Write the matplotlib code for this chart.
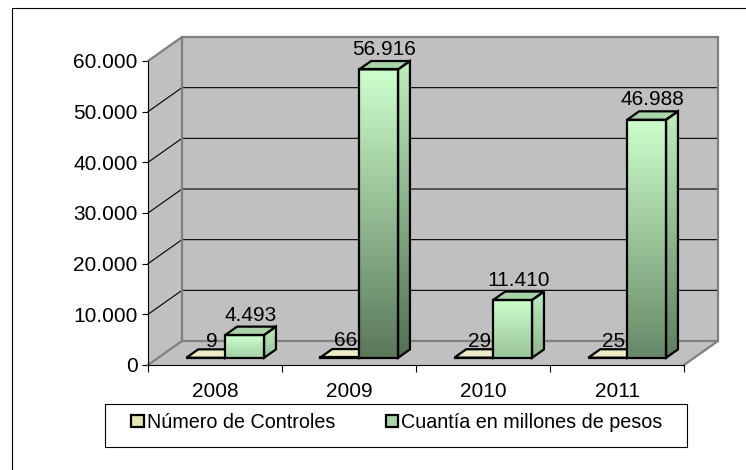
import numpy as np
import matplotlib
matplotlib.use("Agg")
import matplotlib.pyplot as plt
from matplotlib.patches import Polygon, Rectangle, Patch
from matplotlib.colors import to_rgb

plt.rcParams['font.family'] = ['Liberation Sans', 'DejaVu Sans']

# ---- data ----
years = ["2008", "2009", "2010", "2011"]
num_controles = [9, 66, 29, 25]
cuantia = [4493, 56916, 11410, 46988]
series_names = ["Número de Controles", "Cuantía en millones de pesos"]
y_ticks = [0, 10000, 20000, 30000, 40000, 50000, 60000]

FS = 15        # axis and value labels
FS_LEG = 14.2  # legend text

W, H = 746, 470
fig = plt.figure(figsize=(W / 100, H / 100), dpi=100)
fig.patch.set_facecolor("white")

# front plane of the 3-D plot area
ax = fig.add_axes([148 / W, 1 - 365 / H, 536 / W, 304 / H])
ax.set_xlim(0, len(years))
ax.set_ylim(y_ticks[0], y_ticks[-1])
ax.patch.set_alpha(0)

# depth offset of the back wall, in data units
DX = 34 / 134
DY = 24 / 304 * (y_ticks[-1] - y_ticks[0])
Z0, Z1 = 0.30, 0.65          # bar front / back depth
XMAX, YMAX = len(years), y_ticks[-1]


def proj(x, y, z):
    return (x + z * DX, y + z * DY)


WALL = "#C0C0C0"
EDGE = "#808080"


def poly(pts, fc, ec, lw, z):
    p = Polygon(pts, closed=True, facecolor=fc, edgecolor=ec, lw=lw,
                zorder=z, clip_on=False, joinstyle="miter")
    ax.add_patch(p)
    return p


# walls and floor
poly([proj(0, 0, 1), proj(XMAX, 0, 1), proj(XMAX, YMAX, 1), proj(0, YMAX, 1)],
     WALL, "none", 0, 1)
poly([proj(0, 0, 0), proj(0, 0, 1), proj(0, YMAX, 1), proj(0, YMAX, 0)],
     WALL, "none", 0, 1)
poly([proj(0, 0, 0), proj(XMAX, 0, 0), proj(XMAX, 0, 1), proj(0, 0, 1)],
     WALL, "none", 0, 1)

# gridlines on back and side walls
for v in y_ticks[1:-1]:
    xs, ys = zip(proj(0, v, 0), proj(0, v, 1), proj(XMAX, v, 1))
    ax.plot(xs, ys, color="black", lw=0.8, zorder=2, clip_on=False)

# wall edges
edges = [
    [proj(0, YMAX, 0), proj(0, YMAX, 1), proj(XMAX, YMAX, 1), proj(XMAX, 0, 1)],
    [proj(0, 0, 0), proj(0, 0, 1), proj(XMAX, 0, 1), proj(XMAX, 0, 0)],
    [proj(0, 0, 1), proj(0, YMAX, 1)],
]
for e in edges:
    xs, ys = zip(*e)
    ax.plot(xs, ys, color=EDGE, lw=1.6, zorder=2.5, clip_on=False,
            solid_joinstyle="miter")

LIGHT = np.array(to_rgb("#CCFFCC"))
DARK = np.array(to_rgb("#5A785A"))
vmax = max(cuantia)


def gradient_face(pts, c_top, c_bottom, z):
    clip = poly(pts, "none", "none", 0, z)
    xs, ys = zip(*pts)
    t = np.linspace(0, 1, 64)[:, None]
    img = (c_top[None, :] * (1 - t) + c_bottom[None, :] * t)[:, None, :]
    im = ax.imshow(img, extent=(min(xs), max(xs), min(ys), max(ys)),
                   origin="upper", aspect="auto", interpolation="bilinear",
                   zorder=z)
    im.set_clip_path(clip)
    return im


def outline(pts, z):
    poly(pts, "none", "black", 1.6, z)


def box(x0, x1, v, kind, z):
    fl = [proj(x0, 0, Z0), proj(x1, 0, Z0), proj(x1, v, Z0), proj(x0, v, Z0)]
    rt = [proj(x1, 0, Z0), proj(x1, 0, Z1), proj(x1, v, Z1), proj(x1, v, Z0)]
    tp = [proj(x0, v, Z0), proj(x1, v, Z0), proj(x1, v, Z1), proj(x0, v, Z1)]
    if kind == "green":
        f = 0.3 + 0.7 * v / vmax
        bottom = LIGHT * (1 - f) + DARK * f
        gradient_face(fl, LIGHT, bottom, z)
        gradient_face(rt, LIGHT * 0.93, bottom * 0.93, z)
        poly(tp, "#A8D4A8", "none", 0, z)
    else:
        poly(fl, "#E6E3B4", "none", 0, z)
        poly(rt, "#D8D5A4", "none", 0, z)
        poly(tp, "#EEECC4", "none", 0, z)
    for face in (fl, rt, tp):
        outline(face, z + 0.05)


BW = 0.29
fmt = lambda v: f"{v:,.0f}".replace(",", ".")
for i in range(len(years)):
    c = i + 0.5
    # small series (left bar)
    box(c - BW, c, num_controles[i], "yellow", 3 + i)
    lx, _ = proj(c - BW / 2, 0, (Z0 + Z1) / 2)
    ly = proj(0, num_controles[i], Z1)[1]
    ax.annotate(fmt(num_controles[i]), (lx, ly),
                xytext=(0, -1), textcoords="offset points", ha="center",
                va="bottom", fontsize=FS, zorder=3.2 + i,
                annotation_clip=False)
    # amount series (right bar)
    box(c, c + BW, cuantia[i], "green", 3.5 + i)
    lx, _ = proj(c + BW / 2, 0, (Z0 + Z1) / 2)
    ly = proj(0, cuantia[i], Z1)[1]
    ax.annotate(fmt(cuantia[i]), (lx, ly), xytext=(0, 1.5),
                textcoords="offset points", ha="center", va="bottom",
                fontsize=FS, zorder=10, annotation_clip=False)

# axes styling
for s in ("top", "right"):
    ax.spines[s].set_visible(False)
for s in ("left", "bottom"):
    ax.spines[s].set_color("black")
    ax.spines[s].set_linewidth(0.8)
    ax.spines[s].set_zorder(20)

ax.set_yticks(y_ticks)
ax.set_yticklabels([fmt(v) for v in y_ticks])
ax.tick_params(axis="y", length=4, width=0.8, pad=3.5, labelsize=FS)

ax.set_xticks(range(len(years) + 1))
ax.set_xticklabels([])
ax.set_xticks([i + 0.5 for i in range(len(years))], minor=True)
ax.set_xticklabels(years, minor=True)
ax.tick_params(axis="x", which="major", length=5, width=0.8, direction="out")
ax.tick_params(axis="x", which="minor", length=0, pad=12.5, labelsize=FS)

# chart frame
fig.add_artist(Rectangle((12 / W, -0.1), 1.2, 1.1 - 8 / H, fill=False,
                         edgecolor="black", lw=0.8, transform=fig.transFigure))

# legend
fig.add_artist(Rectangle((105 / W, 1 - 447 / H), 582 / W, 43 / H,
                         facecolor="white", edgecolor="black", lw=0.8,
                         transform=fig.transFigure))
handles = [Patch(facecolor="#E6E3B4", edgecolor="black", lw=1.6),
           Patch(facecolor="#A8D4A8", edgecolor="black", lw=1.6)]
fig.legend(handles, series_names, loc="center",
           bbox_to_anchor=(397 / W, 1 - 422.5 / H), ncol=2, frameon=False,
           fontsize=FS_LEG, handlelength=0.62, handleheight=0.62,
           handletextpad=0.15, columnspacing=2.6, borderpad=0)

fig.savefig("out.png", dpi=100, facecolor="white")
